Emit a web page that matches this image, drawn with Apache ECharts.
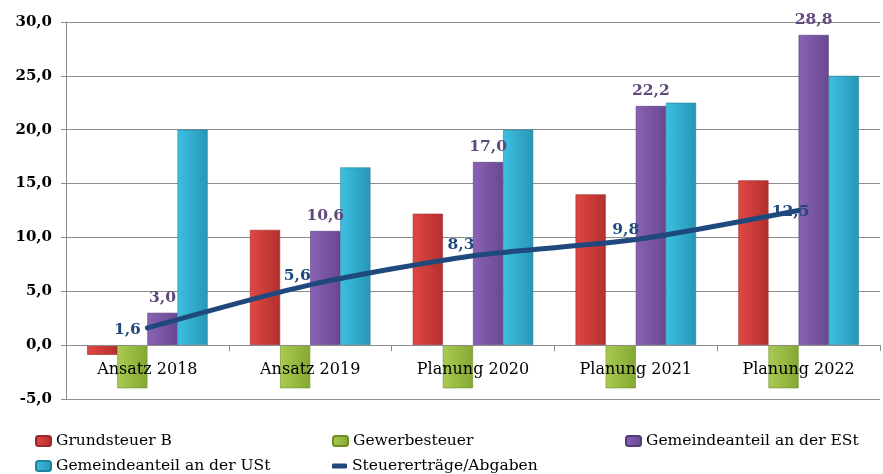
<!DOCTYPE html>
<html>
<head>
<meta charset="utf-8">
<script src="https://cdn.jsdelivr.net/npm/echarts@6/dist/echarts.min.js"></script>
<style>
html, body { margin: 0; padding: 0; background: #fff; }
#chart { width: 883px; height: 474px; }
</style>
</head>
<body>
<div id="chart"></div>
<script>
// Werte in Mio. EUR
var categories = ['Ansatz 2018', 'Ansatz 2019', 'Planung 2020', 'Planung 2021', 'Planung 2022']
var grundsteuerB = [-0.9, 10.7, 12.2, 14.0, 15.3]
var gewerbesteuer = [-4.0, -4.0, -4.0, -4.0, -4.0]
var anteilESt = [3.0, 10.6, 17.0, 22.2, 28.8]
var anteilUSt = [20.0, 16.5, 20.0, 22.5, 25.0]
var ertraege = [1.6, 5.6, 8.3, 9.8, 12.5]

// label offsets for the line (Excel puts them a bit left/above)
var lineLabelOffsets = [[-20, 2], [-13, -9], [-12, -11], [-10, -10], [-8, 1]]

var serif = 'DejaVu Serif'
function fmt (v) { return v.toFixed(1).replace('.', ',') }
function grad (a, b) {
  return new echarts.graphic.LinearGradient(0, 0, 1, 0, [
    {offset: 0, color: a}, {offset: 1, color: b}
  ])
}

var chart = echarts.init(document.getElementById('chart'))

function legendAt (name, left, top, icon) {
  var l = {
    data: [name],
    left: left,
    top: top,
    itemWidth: 15,
    itemHeight: 10,
    textStyle: {fontFamily: serif, fontSize: 15.5, color: '#000'},
    selectedMode: false
  }
  if (icon) { l.icon = icon; l.itemHeight = 5 }
  return l
}

// grid: 377px tall for 35 units -> zero line sits 5 units above the bottom
var gridTop = 22, gridBottom = 75
var zeroShift = (474 - gridTop - gridBottom) / 35 * 5

var option = {
  backgroundColor: '#fff',
  animation: false,
  grid: {left: 66, right: 3, top: gridTop, bottom: gridBottom},
  legend: [
    legendAt('Grundsteuer B', 30, 428),
    legendAt('Gewerbesteuer', 327, 428),
    legendAt('Gemeindeanteil an der ESt', 620, 428),
    legendAt('Gemeindeanteil an der USt', 30, 453),
    legendAt('Steuererträge/Abgaben', 327, 453, 'roundRect')
  ],
  xAxis: {
    type: 'category',
    data: categories,
    z: 10,
    position: 'bottom',
    offset: -zeroShift,
    axisLine: {onZero: false, lineStyle: {color: '#8c8c8c', width: 1}},
    axisTick: {show: true, length: 6, lineStyle: {color: '#8c8c8c'}},
    axisLabel: {fontFamily: serif, fontSize: 16, color: '#000', margin: 17}
  },
  yAxis: {
    type: 'value',
    min: -5,
    max: 30,
    interval: 5,
    axisLine: {show: true, lineStyle: {color: '#8c8c8c'}},
    axisTick: {show: true, length: 5, lineStyle: {color: '#8c8c8c'}},
    splitLine: {lineStyle: {color: '#8c8c8c', width: 1}},
    axisLabel: {
      fontFamily: serif, fontSize: 15, fontWeight: 'bold', color: '#000', margin: 14,
      formatter: fmt
    }
  },
  series: [
    {
      name: 'Grundsteuer B',
      type: 'bar',
      data: grundsteuerB,
      barGap: '0%',
      barCategoryGap: '26%',
      itemStyle: {color: grad('#e04744', '#b3302d'), borderColor: '#9a2a28', borderWidth: 0.6}
    },
    {
      name: 'Gewerbesteuer',
      type: 'bar',
      data: gewerbesteuer,
      itemStyle: {color: grad('#a9cb52', '#84a833'), borderColor: '#6f8c2a', borderWidth: 0.6}
    },
    {
      name: 'Gemeindeanteil an der ESt',
      type: 'bar',
      data: anteilESt,
      itemStyle: {color: grad('#8a62b6', '#684890'), borderColor: '#553a78', borderWidth: 0.6},
      label: {
        show: true,
        position: 'top',
        distance: 7,
        fontFamily: serif,
        fontSize: 15.5,
        fontWeight: 'bold',
        color: '#604a7b',
        formatter: function (p) { return fmt(p.value) }
      }
    },
    {
      name: 'Gemeindeanteil an der USt',
      type: 'bar',
      data: anteilUSt,
      itemStyle: {color: grad('#3cc0e2', '#2896b6'), borderColor: '#21809c', borderWidth: 0.6}
    },
    {
      name: 'Steuererträge/Abgaben',
      type: 'line',
      z: 5,
      smooth: 0.25,
      symbol: 'circle',
      symbolSize: 1,
      data: ertraege.map(function (v, i) {
        return {value: v, label: {offset: lineLabelOffsets[i]}}
      }),
      itemStyle: {color: '#1f497d'},
      lineStyle: {color: '#1f497d', width: 5, cap: 'round'},
      label: {
        show: true,
        position: 'inside',
        fontFamily: serif,
        fontSize: 15.5,
        fontWeight: 'bold',
        color: '#1f497d',
        formatter: function (p) { return fmt(p.value) }
      }
    }
  ]
}

chart.setOption(option)
</script>
</body>
</html>
